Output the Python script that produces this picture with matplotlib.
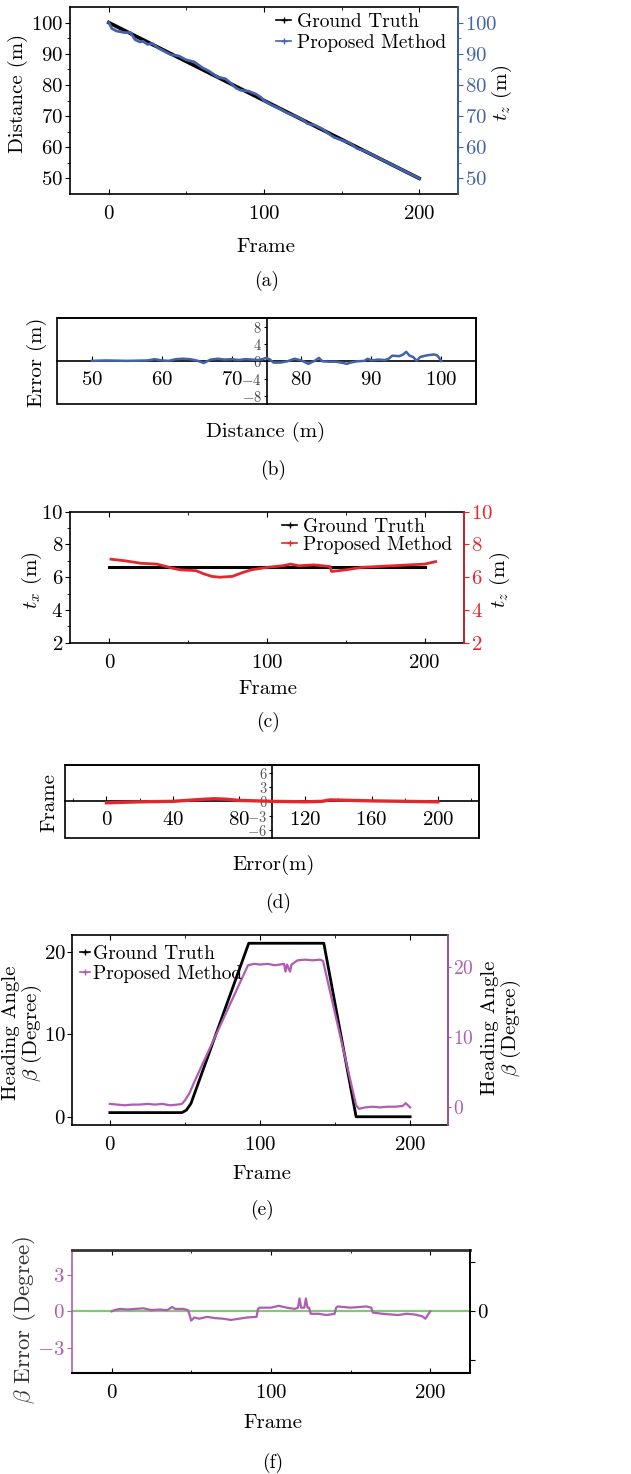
import numpy as np
import matplotlib
matplotlib.use('Agg')
import matplotlib.pyplot as plt
from matplotlib.lines import Line2D
from matplotlib.patches import Rectangle

plt.rcParams.update({
    'font.family': 'cmr10',
    'mathtext.fontset': 'cm',
    'axes.formatter.use_mathtext': True,
    'axes.unicode_minus': True,
    'font.size': 15,
    'axes.linewidth': 1.2,
})

# ---------------- data ----------------
# (a) distance vs frame
gt_a_frame = [0, 200]
gt_a_dist = [100, 50]
pm_a_frame = [0, 2, 5, 10, 14, 17, 20, 22, 25, 28, 32, 40, 45, 50, 55, 60, 65, 70, 75, 78,
              82, 85, 90, 95, 98, 100, 105, 110, 115, 120, 125, 128, 133, 137, 145, 150,
              155, 160, 165, 170, 180, 190, 200]
pm_a_dist = [100, 98.1, 97.3, 96.8, 96.8, 94.5, 93.8, 94.0, 93.0, 93.3, 91.8, 89.7, 89.3, 88.0,
             87.4, 85.6, 84.3, 82.5, 82.0, 80.8, 79.0, 78.3, 78.0, 77.0, 76.0, 75.0, 73.5,
             72.4, 71.0, 70.0, 68.8, 67.6, 67.0, 66.0, 63.2, 62.3, 61.4, 59.6, 58.8, 57.5,
             55.0, 52.5, 50.0]

# (b) error vs distance
err_b_dist = [50, 52, 55, 58, 59, 60, 61, 62, 63, 64, 65, 66, 67, 68, 69, 70, 71, 72, 73, 74,
              75, 75.5, 76, 77, 78, 79, 80, 80.5, 81, 82, 82.5, 83, 84, 85, 86, 86.5, 87, 88,
              89, 89.5, 90, 91, 92, 92.5, 93, 94, 94.5, 95, 95.5, 96, 96.5, 97, 98, 99, 99.5, 100]
err_b_val = [0.1, 0.2, 0.1, 0.2, 0.5, 0.2, 0.1, 0.5, 0.6, 0.5, 0.2, -0.4, 0.4, 0.6, 0.4, 0.5,
             0.3, 0.5, 0.4, 0.3, 0.8, 0.4, -0.3, -0.3, 0.0, 0.6, 0.2, -0.2, -0.6, 0.2, 0.8, 0.0,
             -0.1, -0.1, -0.4, -0.6, -0.3, 0.0, 0.1, 0.6, 0.2, 0.4, 0.3, 0.6, 1.3, 1.2, 1.5,
             2.2, 1.3, 1.0, 0.1, 1.0, 1.4, 1.6, 1.3, 0.1]

# (c) t_x vs frame
gt_c_frame = [0, 200]
gt_c_val = [6.62, 6.62]
pm_c_frame = [1, 10, 20, 30, 40, 45, 55, 60, 65, 70, 78, 85, 90, 100, 110, 115, 120, 130,
              140, 141, 150, 160, 180, 200, 207]
pm_c_val = [7.1, 7.0, 6.85, 6.8, 6.55, 6.45, 6.4, 6.2, 6.05, 6.0, 6.05, 6.3, 6.45, 6.6,
            6.7, 6.8, 6.7, 6.75, 6.65, 6.35, 6.45, 6.6, 6.7, 6.8, 6.95]

# (d) error vs frame
err_d_frame = [0, 20, 40, 55, 65, 72, 80, 100, 120, 130, 135, 160, 180, 200]
err_d_val = [-0.3, -0.1, 0.0, 0.35, 0.55, 0.45, 0.2, 0.0, -0.1, 0.0, 0.3, 0.1, 0.0, -0.1]

# (e) heading angle
gt_e_frame = [0, 48, 51, 54, 92.5, 142.5, 164, 200]
gt_e_val = [0.5, 0.5, 0.8, 1.6, 21.0, 21.0, 0.0, 0.0]
pm_e_frame = [0, 5, 10, 15, 20, 25, 30, 35, 40, 45, 48, 50, 53, 56, 92, 96, 100, 105, 110,
              116, 117, 118, 120, 121, 125, 130, 135, 140, 142, 145, 164, 166, 170, 175,
              180, 185, 190, 195, 197, 200]
pm_e_val = [0.5, 0.4, 0.3, 0.4, 0.4, 0.5, 0.4, 0.5, 0.3, 0.4, 0.5, 1.0, 2.0, 3.5, 20.2,
            20.4, 20.3, 20.4, 20.2, 20.4, 19.3, 20.3, 19.3, 20.3, 20.9, 21.0, 20.9, 21.0,
            20.8, 18.0, 0.3, -0.2, 0.0, 0.1, 0.0, 0.1, 0.1, 0.2, 0.6, 0.0]

# (f) heading error
err_f_frame = [0, 2, 5, 10, 15, 20, 25, 30, 35, 38, 40, 45, 48, 49, 50, 52, 55, 60, 65, 70,
               75, 80, 85, 91, 92, 93, 100, 105, 110, 115, 117, 118, 119, 121, 122, 123, 124,
               125, 130, 135, 140, 141, 142, 150, 155, 160, 163, 164, 170, 175, 180, 185,
               190, 195, 197, 200]
err_f_val = [0.0, 0.1, 0.2, 0.15, 0.2, 0.25, 0.1, 0.15, 0.1, 0.35, 0.2, 0.2, 0.1, -0.3, -0.75,
             -0.5, -0.6, -0.45, -0.55, -0.6, -0.7, -0.6, -0.5, -0.45, 0.2, 0.3, 0.3, 0.45,
             0.3, 0.2, 0.3, 1.05, 0.3, 0.3, 1.05, 0.3, 0.3, -0.2, -0.2, -0.3, -0.2, 0.3, 0.4,
             0.3, 0.35, 0.4, 0.3, -0.1, -0.2, -0.25, -0.3, -0.2, -0.25, -0.4, -0.6, 0.0]

BLUE = '#4262ac'
RED = '#e5262c'
PURPLE = '#b05cb2'
GREEN = '#82c77a'

FS = 15      # tick labels / axis labels
LFS = 14     # legend
CFS = 14     # captions

W, H = 631, 1474
fig = plt.figure(figsize=(W / 100, H / 100), dpi=100)


def box(l, r, t, b):
    return [l / W, 1 - b / H, (r - l) / W, (b - t) / H]


def ftxt(x, y, s, **kw):
    kw.setdefault('ha', 'center')
    kw.setdefault('va', 'center')
    fig.text(x / W, 1 - y / H, s, **kw)


# ---------------- (a) ----------------
ax = fig.add_axes(box(70, 458, 7, 194))
ax.plot(gt_a_frame, gt_a_dist, color='k', lw=2.6, zorder=2)
ax.plot(pm_a_frame, pm_a_dist, color=BLUE, lw=2.0, zorder=3)
ax.set_xlim(-25, 225)
ax.set_ylim(45, 105)
ax.set_xticks([0, 100, 200])
ax.set_xticks([50, 150], minor=True)
ax.set_yticks([50, 60, 70, 80, 90, 100])
ax.set_yticks([55, 65, 75, 85, 95], minor=True)
ax.tick_params(axis='x', which='both', direction='in', top=True, labelsize=FS, pad=8)
ax.tick_params(axis='y', which='both', direction='out', labelsize=FS, pad=1.5)
ax2 = ax.twinx()
ax2.set_ylim(45, 105)
ax2.set_yticks([50, 60, 70, 80, 90, 100])
ax2.set_yticks([55, 65, 75, 85, 95], minor=True)
ax2.tick_params(axis='y', which='both', colors=BLUE, labelsize=FS, pad=1.5)
ax2.spines['right'].set_color(BLUE)
for s in ['left', 'top', 'bottom']:
    ax2.spines[s].set_visible(False)
h = [Line2D([], [], color='k', marker='+', ms=4, lw=1.2),
     Line2D([], [], color=BLUE, marker='+', ms=4, lw=1.2)]
ax.legend(h, ['Ground Truth', 'Proposed Method'], loc='upper right', frameon=False,
          handlelength=0.8, handletextpad=0.3, labelspacing=0.15, fontsize=LFS,
          bbox_to_anchor=(1.0, 1.03), borderaxespad=0.2)
ftxt(18, 93, 'Distance (m)', rotation=90, fontsize=FS)
ftxt(502, 93, r'$t_z$ (m)', rotation=90, fontsize=FS)
ftxt(266, 247, 'Frame', fontsize=FS)
ftxt(267, 281, '(a)', fontsize=CFS)

# ---------------- (b) ----------------
ax = fig.add_axes(box(57, 476, 318.3, 404.3))
ax.plot(err_b_dist, err_b_val, color=BLUE, lw=1.8, zorder=3)
ax.set_xlim(45, 105)
ax.set_ylim(-10, 10)
ax.spines['left'].set_position(('data', 75))
ax.spines['bottom'].set_position(('data', 0))
ax.add_patch(Rectangle((0, 0), 1, 1, transform=ax.transAxes, fill=False, lw=1.2,
                       ec='k', clip_on=False, zorder=5))
ax.set_xticks([50, 60, 70, 80, 90, 100])
ax.set_yticks([-8, -4, 0, 4, 8])
ax.tick_params(axis='x', direction='in', labelsize=FS, pad=7)
ax.tick_params(axis='y', direction='out', length=2.5, labelsize=10.5, pad=1, labelcolor='#444')
ftxt(37, 362, 'Error (m)', rotation=90, fontsize=FS)
ftxt(266, 432, 'Distance (m)', fontsize=FS)
ftxt(273, 470, '(b)', fontsize=CFS)

# ---------------- (c) ----------------
ax = fig.add_axes(box(70, 464, 511.7, 642.7))
ax.plot(gt_c_frame, gt_c_val, color='k', lw=2.2, zorder=2)
ax.plot(pm_c_frame, pm_c_val, color=RED, lw=2.0, zorder=3)
ax.set_xlim(-25, 225)
ax.set_ylim(2, 10)
ax.set_xticks([0, 100, 200])
ax.set_xticks([50, 150], minor=True)
ax.set_yticks([2, 4, 6, 8, 10])
ax.set_yticks([3, 5, 7, 9], minor=True)
ax.tick_params(axis='x', which='both', direction='in', top=True, labelsize=FS, pad=8)
ax.tick_params(axis='y', which='both', direction='out', labelsize=FS, pad=1.5)
ax2 = ax.twinx()
ax2.set_ylim(2, 10)
ax2.set_yticks([2, 4, 6, 8, 10])
ax2.tick_params(axis='y', colors=RED, labelsize=FS, pad=1.5)
ax2.spines['right'].set_color(RED)
for s in ['left', 'top', 'bottom']:
    ax2.spines[s].set_visible(False)
h = [Line2D([], [], color='k', marker='+', ms=4, lw=1.2),
     Line2D([], [], color=RED, marker='+', ms=4, lw=1.2)]
ax.legend(h, ['Ground Truth', 'Proposed Method'], loc='upper right', frameon=False,
          handlelength=0.8, handletextpad=0.3, labelspacing=0.0, fontsize=LFS,
          bbox_to_anchor=(1.0, 1.04), borderaxespad=0.2)
ftxt(32, 580, r'$t_x$ (m)', rotation=90, fontsize=FS)
ftxt(500, 580, r'$t_z$ (m)', rotation=90, fontsize=FS)
ftxt(268, 689, 'Frame', fontsize=FS)
ftxt(268, 722, '(c)', fontsize=CFS)

# ---------------- (d) ----------------
ax = fig.add_axes(box(65, 479.3, 765, 837.7))
ax.plot(err_d_frame, err_d_val, color=RED, lw=2.4, zorder=3)
ax.set_xlim(-25, 225)
ax.set_ylim(-7.6, 7.6)
ax.spines['left'].set_position(('data', 100))
ax.spines['bottom'].set_position(('data', 0))
ax.add_patch(Rectangle((0, 0), 1, 1, transform=ax.transAxes, fill=False, lw=1.2,
                       ec='k', clip_on=False, zorder=5))
ax.set_xticks([0, 40, 80, 120, 160, 200])
ax.set_xticks([-20, 20, 60, 140, 180, 220], minor=True)
ax.set_yticks([-6, -3, 0, 3, 6])
ax.tick_params(axis='x', which='both', direction='in', labelsize=FS, pad=7)
ax.tick_params(axis='y', direction='out', length=2.5, labelsize=10.5, pad=1, labelcolor='#555')
ftxt(49, 802, 'Frame', rotation=90, fontsize=FS)
ftxt(274, 865, 'Error(m)', fontsize=FS)
ftxt(278, 903, '(d)', fontsize=CFS)

# ---------------- (e) ----------------
ax = fig.add_axes(box(72.3, 447.7, 935, 1125))
ax.plot(gt_e_frame, gt_e_val, color='k', lw=2.0, zorder=2)
ax.set_xlim(-25, 225)
ax.set_ylim(-1, 22)
ax.set_xticks([0, 100, 200])
ax.set_xticks([50, 150], minor=True)
ax.set_yticks([0, 10, 20])
ax.tick_params(axis='x', which='both', direction='in', top=True, labelsize=FS, pad=8)
ax.tick_params(axis='y', direction='out', labelsize=FS, pad=1)
ax2 = ax.twinx()
ax2.plot(pm_e_frame, pm_e_val, color=PURPLE, lw=1.6, zorder=3)
ax2.set_ylim(-2.5, 24.5)
ax2.set_yticks([0, 10, 20])
ax2.tick_params(axis='y', colors=PURPLE, labelsize=14, pad=1, length=2.5)
ax2.spines['right'].set_color(PURPLE)
for s in ['left', 'top', 'bottom']:
    ax2.spines[s].set_visible(False)
h = [Line2D([], [], color='k', marker='+', ms=4, lw=1.2),
     Line2D([], [], color=PURPLE, marker='+', ms=4, lw=1.2)]
ax2.legend(h, ['Ground Truth', 'Proposed Method'], loc='upper left', frameon=False,
           handlelength=0.5, handletextpad=0.15, labelspacing=0.1, fontsize=LFS,
           bbox_to_anchor=(-0.005, 1.0), borderaxespad=0.1)
ftxt(23, 1033, 'Heading Angle\n' + r'$\beta$ (Degree)', rotation=90, fontsize=FS,
     linespacing=1.0)
ftxt(502, 1028, 'Heading Angle\n' + r'$\beta$ (Degree)', rotation=90, fontsize=FS,
     linespacing=1.0)
ftxt(262, 1174, 'Frame', fontsize=FS)
ftxt(262, 1210, '(e)', fontsize=CFS)

# ---------------- (f) ----------------
ax = fig.add_axes(box(71.7, 470, 1250, 1372.7))
ax.axhline(0, color=GREEN, lw=1.6, zorder=2)
ax.plot(err_f_frame, err_f_val, color=PURPLE, lw=1.6, zorder=3)
ax.set_xlim(-25, 225)
ax.set_ylim(-5, 5)
ax.set_xticks([0, 100, 200])
ax.set_xticks([50, 150], minor=True)
ax.set_yticks([-3, 0, 3])
ax.tick_params(axis='x', which='both', direction='in', top=True, labelsize=FS, pad=8)
ax.tick_params(axis='y', direction='out', labelsize=FS, pad=1.5, labelcolor=PURPLE,
               color=PURPLE)
ax.spines['left'].set_color(PURPLE)
ax.spines['top'].set_color('#333333')
ax.spines['top'].set_linewidth(2.0)
ax.spines['bottom'].set_linewidth(1.5)
ax2 = ax.twinx()
ax2.set_ylim(-5, 5)
ax2.set_yticks([-4, 0, 4])
ax2.set_yticklabels(['', '0', ''])
ax2.tick_params(axis='y', labelsize=FS, pad=1.5)
for s in ['left', 'top', 'bottom']:
    ax2.spines[s].set_visible(False)
ftxt(25, 1320, r'$\beta$ Error (Degree)', rotation=90, fontsize=16.5, color='#333333')
ftxt(273, 1423, 'Frame', fontsize=FS)
ftxt(273, 1463, '(f)', fontsize=CFS)

fig.savefig('out.png', dpi=100)
